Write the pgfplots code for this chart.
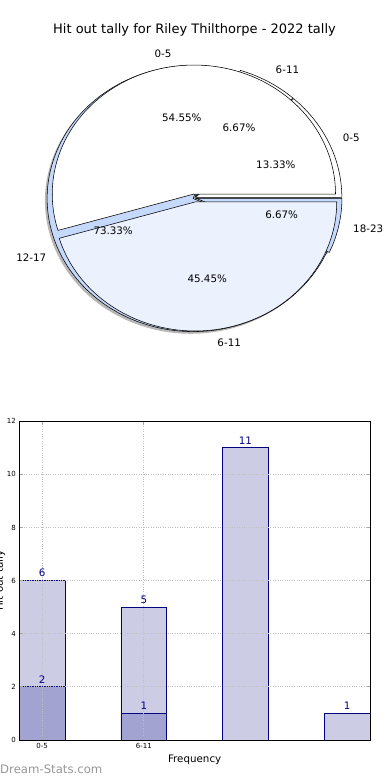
\documentclass[border=0pt]{standalone}
\usepackage{fontspec}
\setmainfont{DejaVu Sans}
\usepackage{pgfplots}
\pgfplotsset{compat=1.18}
\usetikzlibrary{calc}
\definecolor{pieblue}{RGB}{197,217,252}
\definecolor{pielight}{RGB}{235,241,253}
\definecolor{barlight}{RGB}{204,204,229}
\definecolor{bardark}{RGB}{163,163,209}
\definecolor{barnavy}{RGB}{0,0,128}
\definecolor{labnavy}{RGB}{0,0,139}
\definecolor{wmgray}{RGB}{150,150,150}

% #1 start angle, #2 end angle, #3 explode, #4 radius factor, #5 dx (bp), #6 dy (bp), #7 style
\newcommand\slice[7]{%
  \pgfmathsetmacro\md{(#1+#2)/2}%
  \pgfmathsetmacro\exx{#3*146*cos(\md)+#5}%
  \pgfmathsetmacro\exy{#3*133*sin(\md)+#6}%
  \pgfmathsetmacro\rrx{#4*146}%
  \pgfmathsetmacro\rry{#4*133}%
  \path[#7] ($(axis cs:0,0)+(\exx bp,\exy bp)$) -- ++(#1:\rrx bp and \rry bp)
     arc[start angle=#1,end angle=#2,x radius=\rrx bp,y radius=\rry bp] -- cycle;%
}
% #1 start, #2 end, #3 explode, #4 radius factor, #5 label, #6 percent
\newcommand\slicelabels[6]{%
  \pgfmathsetmacro\md{(#1+#2)/2}%
  \pgfmathsetmacro\cm{cos(\md)}%
  \pgfmathsetmacro\sm{sin(\md)}%
  \pgfmathsetmacro\lx{(#3+1.1*#4)*\cm}%
  \pgfmathsetmacro\ly{(#3+1.1*#4)*\sm}%
  \pgfmathsetmacro\px{(#3+0.6*#4)*\cm}%
  \pgfmathsetmacro\py{(#3+0.6*#4)*\sm}%
  \ifdim\cm pt<0pt \def\anc{east}\else\def\anc{west}\fi
  \node[anchor=\anc,font=\fontsize{10.3bp}{12bp}\selectfont,inner sep=0pt] at (axis cs:\lx,\ly) {#5};%
  \node[font=\fontsize{10.3bp}{12bp}\selectfont,inner sep=0pt] at (axis cs:\px,\py)
     {\pgfmathprintnumber[fixed,fixed zerofill,precision=2,assume math mode=true]{#6}\%};%
}

\begin{document}
\begin{tikzpicture}
\node[font=\fontsize{13bp}{15bp}\selectfont] at (194.5bp,-30bp) {Hit out tally for Riley Thilthorpe - 2022 tally};

% ---------------- pie ----------------
\begin{axis}[at={(194.5bp,-198bp)}, anchor=center, scale only axis,
  width=379.6bp, height=345.8bp,
  xmin=-1.3, xmax=1.3, ymin=-1.3, ymax=1.3,
  axis lines=none, clip=false]
\addplot[draw=none] coordinates {(0,0)};
\pgfplotsextra{
  % shadows of the outer ring (total 15)
  \gdef\cum{0}
  \foreach \v in {1,2,1,11}{
    \pgfmathsetmacro\sa{72-\cum*360/15}
    \pgfmathsetmacro\newcum{\cum+\v}
    \xdef\cum{\newcum}
    \pgfmathsetmacro\ea{72-\cum*360/15}
    \slice{\sa}{\ea}{0.01}{1}{-2.2}{-2.2}{fill=black!70,fill opacity=0.4,draw=none}
  }
  % outer ring: 6-11, 0-5, 18-23, 12-17
  \gdef\cum{0}
  \foreach \v/\col in {1/white,2/white,1/pieblue,11/pieblue}{
    \pgfmathsetmacro\sa{72-\cum*360/15}
    \pgfmathsetmacro\newcum{\cum+\v}
    \xdef\cum{\newcum}
    \pgfmathsetmacro\ea{72-\cum*360/15}
    \slice{\sa}{\ea}{0.01}{1}{0}{0}{fill=\col,draw=black,line width=0.55bp}
  }
  % inner pie: 0-5, 6-11 (total 11)
  \gdef\cum{0}
  \foreach \v/\col in {6/white,5/pielight}{
    \pgfmathsetmacro\sa{\cum*360/11}
    \pgfmathsetmacro\newcum{\cum+\v}
    \xdef\cum{\newcum}
    \pgfmathsetmacro\ea{\cum*360/11}
    \slice{\sa}{\ea}{0.03}{0.97}{0}{0}{fill=\col,draw=black,line width=0.55bp}
  }
  % labels outer
  \gdef\cum{0}
  \foreach \v/\lab in {1/6-11,2/0-5,1/18-23,11/12-17}{
    \pgfmathsetmacro\sa{72-\cum*360/15}
    \pgfmathsetmacro\newcum{\cum+\v}
    \xdef\cum{\newcum}
    \pgfmathsetmacro\ea{72-\cum*360/15}
    \pgfmathsetmacro\pc{\v*100/15+0.0002}
    \slicelabels{\sa}{\ea}{0.01}{1}{\lab}{\pc}
  }
  % labels inner
  \gdef\cum{0}
  \foreach \v/\lab in {6/0-5,5/6-11}{
    \pgfmathsetmacro\sa{\cum*360/11}
    \pgfmathsetmacro\newcum{\cum+\v}
    \xdef\cum{\newcum}
    \pgfmathsetmacro\ea{\cum*360/11}
    \pgfmathsetmacro\pc{\v*100/11+0.0002}
    \slicelabels{\sa}{\ea}{0.03}{0.97}{\lab}{\pc}
  }
}
\end{axis}

% ---------------- bars ----------------
\begin{axis}[at={(19.3bp,-740bp)}, anchor=south west, scale only axis,
  width=350.7bp, height=318.7bp,
  xmin=-0.225, xmax=3.225, ymin=0, ymax=12,
  ybar, bar width=0.45, bar shift=0pt,
  xtick={0,1}, xticklabels={0-5,6-11},
  ytick={0,2,...,12},
  grid=major, major grid style={gray!50, dotted, line width=0.9bp},
  tick align=inside, major tick length=3.5bp,
  tick style={gray!70, line width=0.8bp},
  axis line style={black, line width=0.7bp},
  ticklabel style={font=\fontsize{7bp}{8bp}\selectfont},
  /pgf/number format/assume math mode=true,
  axis on top,
  clip=false,
  xlabel={Frequency},
  xlabel style={at={(axis description cs:0.5,0)}, anchor=center, yshift=-20bp, font=\fontsize{10.3bp}{12bp}\selectfont},
  nodes near coords,
  nodes near coords style={font=\fontsize{10.3bp}{12bp}\selectfont, text=labnavy},
]
\addplot[fill=barlight, draw=barnavy, line width=0.8bp] coordinates {(0,6) (1,5) (2,11) (3,1)};
\addplot[fill=bardark, draw=barnavy, line width=0.8bp] coordinates {(0,2) (1,1)};
\node[overlay, rotate=90, anchor=base, inner sep=0pt, font=\fontsize{10.3bp}{12bp}\selectfont]
  at (axis description cs:-0.0465,0.5) {Hit out tally};
\end{axis}

\node[anchor=base west, inner sep=0pt, text=wmgray, font=\fontsize{11.7bp}{13bp}\selectfont] at (0bp,-773bp) {Dream-Stats.com};
\pgfresetboundingbox
\useasboundingbox (0bp,0bp) rectangle (390bp,-780bp);
\end{tikzpicture}
\end{document}
